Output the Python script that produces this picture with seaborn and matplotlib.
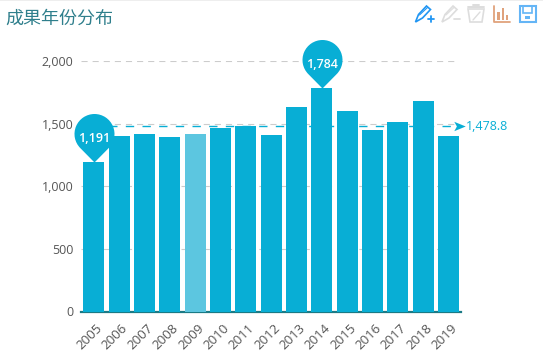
import numpy as np
import pandas as pd
import matplotlib
matplotlib.use("Agg")
import matplotlib.pyplot as plt
import matplotlib.ticker as mticker
from matplotlib.path import Path
from matplotlib.patches import Rectangle, Polygon
import seaborn as sns

years = ["2005", "2006", "2007", "2008", "2009", "2010", "2011", "2012",
         "2013", "2014", "2015", "2016", "2017", "2018", "2019"]
counts = [1191, 1404, 1420, 1396, 1420, 1468, 1484, 1412,
          1636, 1784, 1604, 1452, 1516, 1684, 1404]
mean_value = 1478.8
y_ticks = [0, 500, 1000, 1500, 2000]
highlight_year = "2009"

BAR = "#08aed5"
LIGHT = "#5cc6e0"
TEAL = "#1b7a85"
W, H = 543, 355

sns.set_theme(style="white")
plt.rcParams["font.family"] = ["Open Sans", "Noto Sans CJK SC", "DejaVu Sans"]


def pin_marker():
    # tip at origin, so the marker sits right on the bar top
    r, cy = 20.0, 28.5
    a = np.degrees(np.arcsin(r / cy))
    arc = Path.arc(-a + 0, 180 + a)
    verts = arc.vertices * r + [0, cy]
    codes = arc.codes.copy()
    verts = np.vstack([[0, 0], verts, [0, 0]])
    codes = np.concatenate([[Path.MOVETO], [Path.LINETO], codes[1:], [Path.CLOSEPOLY]])
    return Path(verts, codes), 2 * (cy + r) * 0.72


df = pd.DataFrame({"year": years, "count": counts})

fig = plt.figure(figsize=(W / 100, H / 100), dpi=100)
ax = fig.add_axes([81 / W, 1 - 311.5 / H, 380.3 / W, 250.5 / H])

palette = {y: (LIGHT if y == highlight_year else BAR) for y in years}
sns.barplot(data=df, x="year", y="count", hue="year", palette=palette, legend=False,
            width=0.83, saturation=1, linewidth=0, ax=ax, zorder=3)

ax.set_xlim(-0.5, len(years) - 0.5)
ax.set_ylim(0, 2000)
ax.set_yticks(y_ticks)
ax.yaxis.set_major_formatter(mticker.FuncFormatter(lambda v, _: f"{int(v):,}"))
ax.set_xlabel("")
ax.set_ylabel("")
# grid stops a little short of the axis end
ax.hlines(y_ticks[1:], -0.5, 14.3, color="#cccccc", linestyle=(0, (5.5, 4.5)), linewidth=0.8, zorder=1)

for side in ["top", "right", "left"]:
    ax.spines[side].set_visible(False)
ax.spines["bottom"].set_color(TEAL)
ax.spines["bottom"].set_linewidth(1.6)

# ticks sit on the category borders, labels stay under the bars
ax.set_xticks(np.arange(len(years) + 1) - 0.5)
ax.set_xticklabels([])
ax.tick_params(axis="x", length=3.5, width=0.8, color="#222222", pad=0)
ax.tick_params(axis="y", length=0, labelsize=9, labelcolor="#555555", pad=5.5)
for i, y in enumerate(years):
    ax.annotate(y, (i, 0), xytext=(1.5, -7), textcoords="offset points", rotation=45,
                ha="right", va="top", rotation_mode="anchor", fontsize=9.5, color="#555555")

# mean line
ax.axhline(mean_value, xmin=0.03, xmax=0.985, color=BAR, linewidth=1,
           linestyle=(0, (6, 6)), zorder=4, clip_on=False)
arrow = Path([(-5, -4.5), (6, 0), (-5, 4.5), (-2.5, 0), (-5, -4.5)],
             [Path.MOVETO, Path.LINETO, Path.LINETO, Path.LINETO, Path.CLOSEPOLY])
ax.plot([14.42], [mean_value], marker=arrow, markersize=9, color=BAR, clip_on=False, zorder=5,
        markeredgewidth=0)
ax.annotate(f"{mean_value:,.1f}", (14.5, mean_value), xytext=(3.5, 0), textcoords="offset points",
            va="center", ha="left", fontsize=9, color=BAR, annotation_clip=False)

# pins for min and max
pin, ms = pin_marker()
for idx in [int(np.argmin(counts)), int(np.argmax(counts))]:
    ax.plot([idx], [counts[idx]], marker=pin, markersize=ms, color=BAR, markeredgewidth=0,
            clip_on=False, zorder=6)
    ax.annotate(f"{counts[idx]:,}", (idx, counts[idx]), xytext=(0, 17), textcoords="offset points",
                ha="center", va="center", fontsize=9, color="white", zorder=7,
                annotation_clip=False, fontweight="semibold")

fig.text(5.5 / W, 1 - 18.5 / H, "成果年份分布", fontsize=13, color="#2f7f8c", va="center",
         family=["Noto Sans CJK SC", "DejaVu Sans"])

# toolbox icons, overlay in pixel coordinates
ov = fig.add_axes([0, 0, 1, 1], facecolor="none")
ov.set_xlim(0, W)
ov.set_ylim(H, 0)
ov.axis("off")
ov.add_patch(Rectangle((0, 0), W, 1.2, color="#eeeeee", lw=0))


def pencil(x, color, sign):
    ov.add_patch(Polygon([(x, 22), (x + 3, 14.5), (x + 11, 6), (x + 15, 9.5), (x + 7, 18)],
                         closed=True, fill=False, ec=color, lw=1.2))
    ov.plot([x + 4, x + 12], [15, 7.5], color=color, lw=0.8)
    ov.plot([x + 12, x + 18], [18.5, 18.5], color=color, lw=1.3)
    if sign == "+":
        ov.plot([x + 15, x + 15], [15.5, 21.5], color=color, lw=1.3)


pencil(415.5, "#2196f3", "+")
pencil(442, "#dddddd", "-")
ov.add_patch(Polygon([(468, 9), (484, 9), (482, 22), (470, 22)], closed=True, fill=False,
                     ec="#dddddd", lw=1.2))
ov.plot([468, 484], [7, 7], color="#dddddd", lw=1.4)
ov.plot([473, 479], [5, 5], color="#dddddd", lw=1.4)
ov.plot([473, 480], [20, 12], color="#dddddd", lw=1)
ov.plot([493.5, 493.5, 510], [6, 22, 22], color="#e0a27c", lw=1.3)
for bx, by in [(497, 12), (501.5, 8), (505.5, 15)]:
    ov.add_patch(Rectangle((bx, by), 2.5, 20 - by, color="#e0a27c", lw=0))
ov.add_patch(Rectangle((519.5, 6), 16, 16, fill=False, ec="#64b5f6", lw=1.5))
ov.add_patch(Rectangle((523, 6), 9, 7, fill=False, ec="#64b5f6", lw=1.2))
ov.add_patch(Rectangle((525, 16), 5, 3, color="#64b5f6", lw=0))

fig.savefig("out.png", dpi=100)
